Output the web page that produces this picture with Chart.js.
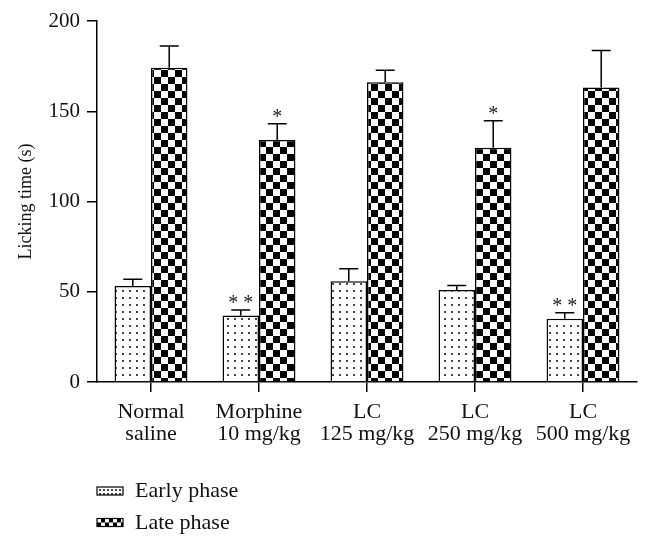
<!DOCTYPE html>
<html>
<head>
<meta charset="utf-8">
<script src="https://cdn.jsdelivr.net/npm/chart.js@4"></script>
<style>
  body { margin: 0; background: #fff; }
  #wrap { width: 651px; height: 546px; }
</style>
</head>
<body>
<div id="wrap"><canvas id="lickChart" width="651" height="546"></canvas></div>
<script>
// values (seconds)
const groups = [['Normal', 'saline'], ['Morphine', '10 mg/kg'], ['LC', '125 mg/kg'], ['LC', '250 mg/kg'], ['LC', '500 mg/kg']];
const earlyPhase = [53.2, 36.9, 55.8, 51.0, 35.1];
const earlyErr = [3.7, 3.0, 7.0, 2.4, 3.3];
const latePhase = [174.1, 134.1, 166.0, 129.8, 163.2];
const lateErr = [12.0, 9.0, 6.7, 15.0, 20.4];
const earlySig = ['', '**', '', '', '**'];
const lateSig = ['', '*', '', '*', ''];
const yTicks = [0, 50, 100, 150, 200];

const serif = '"Liberation Serif", "Times New Roman", serif';

// fill patterns
function dotPattern(step) {
    const c = document.createElement('canvas');
    c.width = step; c.height = step;
    const g = c.getContext('2d');
    g.fillStyle = '#fff';
    g.fillRect(0, 0, step, step);
    g.fillStyle = '#444';
    g.fillRect(Math.floor(step / 2), Math.floor(step / 2), 2, 2);
    return g.createPattern(c, 'repeat');
}
function checkPattern(sq) {
    const c = document.createElement('canvas');
    c.width = sq * 2; c.height = sq * 2;
    const g = c.getContext('2d');
    g.fillStyle = '#000';
    g.fillRect(0, 0, sq * 2, sq * 2);
    g.fillStyle = '#fff';
    g.fillRect(0, 0, sq, sq);
    g.fillRect(sq, sq, sq, sq);
    return g.createPattern(c, 'repeat');
}

const errSets = [earlyErr, lateErr];
const sigSets = [earlySig, lateSig];
const legendFills = [dotPattern(4), checkPattern(4)];

// error bars + asterisks
const errorBars = {
    id: 'errorBars',
    afterDatasetsDraw(chart) {
        const ctx = chart.ctx;
        const y = chart.scales.y;
        ctx.save();
        ctx.strokeStyle = '#000';
        ctx.lineWidth = 1.5;
        chart.data.datasets.forEach((ds, i) => {
            const meta = chart.getDatasetMeta(i);
            meta.data.forEach((bar, j) => {
                const top = y.getPixelForValue(ds.data[j]);
                const cap = y.getPixelForValue(ds.data[j] + errSets[i][j]);
                ctx.beginPath();
                ctx.moveTo(bar.x, top);
                ctx.lineTo(bar.x, cap);
                ctx.moveTo(bar.x - 9.5, cap);
                ctx.lineTo(bar.x + 9.5, cap);
                ctx.stroke();
                const s = sigSets[i][j];
                if (s) {
                    ctx.fillStyle = '#222';
                    ctx.font = '20px ' + serif;
                    ctx.textAlign = 'center';
                    ctx.textBaseline = 'alphabetic';
                    const text = s.split('').join(' ');
                    ctx.fillText(text, bar.x, cap - 11 + 10);
                }
            });
        });
        ctx.restore();
    }
};

// legend stacked at the bottom left
const stackedLegend = {
    id: 'stackedLegend',
    afterDraw(chart) {
        const ctx = chart.ctx;
        ctx.save();
        chart.data.datasets.forEach((ds, i) => {
            const top = 487 + i * 31.5;
            ctx.save();
            ctx.translate(97, top);
            ctx.fillStyle = legendFills[i];
            ctx.fillRect(0, 0, 26, 8);
            ctx.restore();
            ctx.strokeStyle = '#000';
            ctx.lineWidth = 1.2;
            ctx.strokeRect(97, top, 26, 8);
            ctx.fillStyle = '#111';
            ctx.font = '22px ' + serif;
            ctx.textAlign = 'left';
            ctx.textBaseline = 'alphabetic';
            ctx.fillText(ds.label, 135, top + 10);
        });
        ctx.restore();
    }
};

new Chart(document.getElementById('lickChart'), {
    type: 'bar',
    data: {
        labels: groups,
        datasets: [{
            label: 'Early phase',
            data: earlyPhase,
            backgroundColor: dotPattern(7),
            borderColor: '#000',
            borderWidth: 1.5,
            barPercentage: 1,
            categoryPercentage: 0.675
        }, {
            label: 'Late phase',
            data: latePhase,
            backgroundColor: checkPattern(7),
            borderColor: '#000',
            borderWidth: 1.5,
            barPercentage: 1,
            categoryPercentage: 0.675
        }]
    },
    options: {
        responsive: false,
        animation: false,
        layout: { padding: { top: 21, right: 14, bottom: 94, left: 0 } },
        plugins: {
            legend: { display: false },
            tooltip: { enabled: false }
        },
        scales: {
            x: {
                grid: { display: true, drawOnChartArea: false, offset: false, tickLength: 10, color: '#000', lineWidth: 1.5 },
                border: { color: '#000', width: 1.5 },
                ticks: { color: '#111', font: { family: serif, size: 22, lineHeight: 1.0 }, padding: 9, maxRotation: 0, autoSkip: false },
                afterFit(scale) { scale.height = 70; }
            },
            y: {
                min: 0,
                max: 200,
                afterBuildTicks(scale) { scale.ticks = yTicks.map(v => ({ value: v })); },
                grid: { display: true, drawOnChartArea: false, tickLength: 10, color: '#000', lineWidth: 1.5 },
                border: { color: '#000', width: 1.5 },
                ticks: { color: '#111', font: { family: serif, size: 21 }, padding: 7 },
                title: { display: true, text: 'Licking time (s)', color: '#111', font: { family: serif, size: 18 }, padding: { top: 15, bottom: 0 } },
                afterFit(scale) { scale.width = 97; }
            }
        }
    },
    plugins: [errorBars, stackedLegend]
});
</script>
</body>
</html>
